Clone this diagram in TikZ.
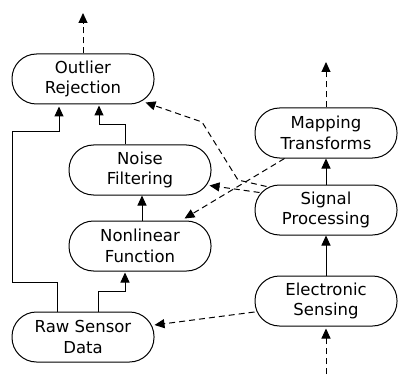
\documentclass[tikz,border=0pt]{standalone}
\usepackage{fontspec}
\setmainfont{DejaVu Sans}
\usetikzlibrary{arrows.meta}
\begin{document}
\begin{tikzpicture}[x=1pt,y=-1pt,
  box/.style={draw,line width=1pt,rounded corners=24.5pt,minimum width=142pt,minimum height=50pt,
    align=center,inner sep=0pt,font=\fontsize{16.5}{20.7}\selectfont},
  arr/.style={line width=1pt,-{Triangle[length=10pt,width=9pt]}},
  darr/.style={arr,dash pattern=on 6pt off 4pt}]
\useasboundingbox (0,0) rectangle (398,374);
\node[box] (or) at (83,79) {Outlier\\Rejection};
\node[box] (nf) at (140,170) {Noise\\Filtering};
\node[box] (nl) at (140,246) {Nonlinear\\Function};
\node[box] (raw) at (83,337) {Raw Sensor\\Data};
\node[box] (mt) at (326,133) {Mapping\\Transforms};
\node[box] (sp) at (326,210) {Signal\\Processing};
\node[box] (es) at (326,301) {Electronic\\Sensing};
\coordinate (ortop) at (83,13);
\coordinate (mttop) at (326,62);
\coordinate (esbot) at (326,374);
% dashed free ends
\draw[darr] (or.north) -- (ortop);
\draw[darr] (mt.north) -- (mttop);
\draw[darr] (esbot) -- ([yshift=-2pt]es.south);
% solid chain on right
\draw[arr] (es.north) -- (sp.south);
\draw[arr] (sp.north) -- (mt.south);
% raw to outlier
\draw[arr] ([xshift=-26pt]raw.north) -- ++(0,-29) -| (12,132) -| ([xshift=-24pt,yshift=-2pt]or.south);
% raw to nonlinear
\draw[arr] ([xshift=15pt]raw.north) -- ++(0,-20) -| ([xshift=-15pt,yshift=-1pt]nl.south);
% nonlinear to noise
\draw[arr] ([xshift=2pt]nl.north) -- ([xshift=2pt]nf.south);
% noise to outlier
\draw[arr] ([xshift=-15pt]nf.north) -- ++(0,-20) -| ([xshift=16pt,yshift=-1pt]or.south);
% electronic sensing to raw
\draw[darr] ([yshift=-11pt]es.west) -- ([yshift=12pt]raw.east);
% signal processing to outlier
\draw[darr] ([xshift=12pt,yshift=-2pt]sp.north west) -- (238,180) -- (202,122) -- ([xshift=-9pt,yshift=2pt]or.south east);
% signal processing to noise filtering
\draw[darr] ([xshift=5pt,yshift=-8pt]sp.north west) -- ([xshift=-2pt,yshift=10pt]nf.south east);
% mapping to nonlinear
\draw[darr] ([xshift=30pt]mt.south west) -- ([xshift=-27pt,yshift=2pt]nl.north east);
\end{tikzpicture}
\end{document}
